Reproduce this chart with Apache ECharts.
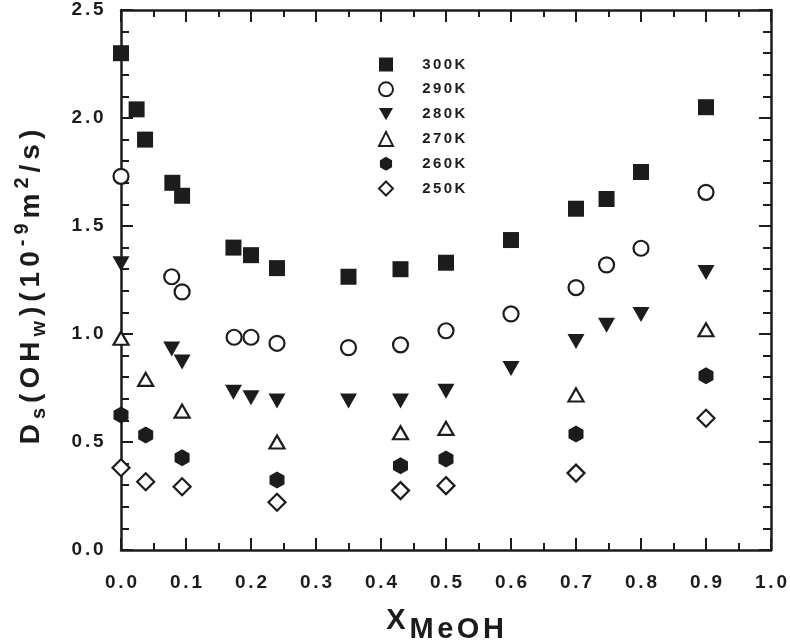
<!DOCTYPE html>
<html>
<head>
<meta charset="utf-8">
<script src="https://cdn.jsdelivr.net/npm/echarts@6/dist/echarts.min.js"></script>
<style>
  html, body { margin: 0; padding: 0; background: #fff; }
  #chart { width: 790px; height: 644px; }
</style>
</head>
<body>
<div id="chart"></div>
<script>
// mole fraction of methanol for each temperature
const x300 = [0.0, 0.024, 0.037, 0.079, 0.094, 0.173, 0.20, 0.24, 0.35, 0.43, 0.50, 0.60, 0.70, 0.747, 0.80, 0.90]
const d300 = [2.30, 2.04, 1.90, 1.70, 1.64, 1.40, 1.365, 1.305, 1.265, 1.30, 1.33, 1.435, 1.58, 1.625, 1.75, 2.05]

const x290 = [0.0, 0.078, 0.094, 0.174, 0.20, 0.24, 0.35, 0.43, 0.50, 0.60, 0.70, 0.747, 0.80, 0.90]
const d290 = [1.73, 1.265, 1.195, 0.985, 0.985, 0.957, 0.937, 0.95, 1.015, 1.093, 1.215, 1.32, 1.397, 1.656]

const x280 = [0.0, 0.078, 0.094, 0.173, 0.20, 0.24, 0.35, 0.43, 0.50, 0.60, 0.70, 0.747, 0.80, 0.90]
const d280 = [1.325, 0.93, 0.87, 0.73, 0.705, 0.69, 0.69, 0.69, 0.735, 0.84, 0.965, 1.04, 1.09, 1.285]

const x270 = [0.0, 0.038, 0.094, 0.24, 0.43, 0.50, 0.70, 0.90]
const d270 = [0.98, 0.79, 0.643, 0.50, 0.543, 0.563, 0.718, 1.02]

const x260 = [0.0, 0.038, 0.094, 0.24, 0.43, 0.50, 0.70, 0.90]
const d260 = [0.625, 0.532, 0.427, 0.324, 0.39, 0.421, 0.537, 0.807]

const x250 = [0.0, 0.038, 0.094, 0.24, 0.43, 0.50, 0.70, 0.90]
const d250 = [0.381, 0.316, 0.293, 0.221, 0.275, 0.298, 0.356, 0.61]

const temps = ['300K', '290K', '280K', '270K', '260K', '250K']

const ink = '#1c1c1c'
const font = 'Liberation Sans, Arial, sans-serif'
const hexagon = 'path://M0,-10L8.66,-5L8.66,5L0,10L-8.66,5L-8.66,-5Z'
const downTriangle = 'path://M0,0L10,0L5,8.7Z'

// letter spaced rich text, one token per character
function spaced(str, style) {
  return str.split('').map(c => '{' + style + '|' + c + '}').join('')
}

function pairs(xs, ys) {
  return xs.map((x, i) => [x, ys[i]])
}

const tickLabel = {
  fontFamily: font,
  fontWeight: 'bold',
  fontSize: 19,
  color: ink,
  padding: [0, 1.4, 0, 1.4],
}

const yName =
  spaced('D', 'a') + spaced('s', 'sub') + spaced('(OH', 'a') + spaced('w', 'sub') +
  spaced(')(10', 'a') + spaced('-9', 'sup') + spaced('m', 'a') + spaced('2', 'sup') + spaced('/s)', 'a')

const xName = '{x|X}' + spaced('MeOH', 'm')

function axisCommon(show, margin) {
  return {
    axisLine: { show: true, onZero: false, lineStyle: { color: ink, width: 2.5 } },
    axisTick: { show: true, inside: true, length: 12, lineStyle: { color: ink, width: 2 } },
    splitLine: { show: false },
    axisLabel: {
      show: show,
      margin: margin,
      color: ink,
      fontFamily: font,
      fontWeight: 'bold',
      fontSize: 19,
      formatter: v => spaced(v.toFixed(1), 't'),
      rich: { t: tickLabel },
    },
  }
}

const chart = echarts.init(document.getElementById('chart'))

const option = {
  backgroundColor: '#fff',
  animation: false,
  grid: { left: 121, right: 19, top: 10, bottom: 94, containLabel: false, outerBoundsMode: 'none' },
  // y axis title, rotated, with sub- and superscripts
  graphic: [
    {
      type: 'text',
      x: 31,
      y: 287,
      rotation: Math.PI / 2,
      style: {
        text: yName,
        align: 'center',
        verticalAlign: 'middle',
        rich: {
          a: { fontFamily: font, fontWeight: 'bold', fontSize: 28, fill: ink, lineHeight: 28, padding: [0, 2.5, 0, 2.5] },
          sub: { fontFamily: font, fontWeight: 'bold', fontSize: 20, fill: ink, lineHeight: 20, padding: [17, 2.5, 0, 2.5] },
          sup: { fontFamily: font, fontWeight: 'bold', fontSize: 20, fill: ink, lineHeight: 20, padding: [0, 2.5, 17, 2.5] },
        },
      },
    },
  ],
  legend: {
    orient: 'vertical',
    left: 373,
    top: 52,
    itemWidth: 14,
    itemHeight: 14,
    itemGap: 9.3,
    data: temps.map(t => (t === '280K' ? { name: t, icon: downTriangle } : t)),
    formatter: name => spaced(name, 'l'),
    textStyle: {
      fontFamily: font,
      fontWeight: 'bold',
      fontSize: 15,
      color: ink,
      padding: [0, 0, 0, 23],
      lineHeight: 14,
      rich: {
        l: { fontFamily: font, fontWeight: 'bold', fontSize: 15, color: ink, padding: [0, 1.2, 0, 1.2] },
      },
    },
  },
  xAxis: [
    Object.assign(axisCommon(true, 23), {
      type: 'value',
      min: 0,
      max: 1,
      interval: 0.1,
      minorTick: { show: true, splitNumber: 2, length: 7, lineStyle: { color: ink, width: 2 } },
      name: xName,
      nameLocation: 'middle',
      nameGap: 53,
      nameTextStyle: {
        rich: {
          x: { fontFamily: font, fontWeight: 'bold', fontSize: 29, color: ink, lineHeight: 29, padding: [0, 2, 0, 0] },
          m: {
            fontFamily: font, fontWeight: 'bold', fontSize: 29, color: ink,
            lineHeight: 29, padding: [19, 1.8, 0, 1.8],
          },
        },
      },
    }),
    Object.assign(axisCommon(false, 8), {
      type: 'value',
      position: 'top',
      min: 0,
      max: 1,
      interval: 0.1,
      minorTick: { show: true, splitNumber: 2, length: 7, lineStyle: { color: ink, width: 2 } },
    }),
  ],
  yAxis: [
    Object.assign(axisCommon(true, 16), {
      type: 'value',
      min: 0,
      max: 2.5,
      interval: 0.5,
      minorTick: { show: true, splitNumber: 5, length: 8, lineStyle: { color: ink, width: 2 } },
    }),
    Object.assign(axisCommon(false, 8), {
      type: 'value',
      position: 'right',
      min: 0,
      max: 2.5,
      interval: 0.5,
      minorTick: { show: true, splitNumber: 5, length: 8, lineStyle: { color: ink, width: 2 } },
    }),
  ],
  series: [
    {
      name: '300K',
      type: 'scatter',
      symbol: 'rect',
      symbolSize: 16,
      itemStyle: { color: ink, opacity: 1 },
      data: pairs(x300, d300),
    },
    {
      name: '290K',
      type: 'scatter',
      symbol: 'circle',
      symbolSize: 15,
      itemStyle: { color: '#fff', borderColor: ink, borderWidth: 2.2, opacity: 1 },
      data: pairs(x290, d290),
    },
    {
      name: '280K',
      type: 'scatter',
      symbol: 'triangle',
      symbolRotate: 180,
      symbolSize: [17, 15],
      itemStyle: { color: ink, opacity: 1 },
      data: pairs(x280, d280),
    },
    {
      name: '270K',
      type: 'scatter',
      symbol: 'triangle',
      symbolSize: [15, 13],
      itemStyle: { color: '#fff', borderColor: ink, borderWidth: 2.2, opacity: 1 },
      data: pairs(x270, d270),
    },
    {
      name: '260K',
      type: 'scatter',
      symbol: hexagon,
      symbolSize: [15, 17],
      itemStyle: { color: ink, opacity: 1 },
      data: pairs(x260, d260),
    },
    {
      name: '250K',
      type: 'scatter',
      symbol: 'diamond',
      symbolSize: [17, 17],
      itemStyle: { color: '#fff', borderColor: ink, borderWidth: 2.2, opacity: 1 },
      data: pairs(x250, d250),
    },
  ],
}

chart.setOption(option)
</script>
</body>
</html>
